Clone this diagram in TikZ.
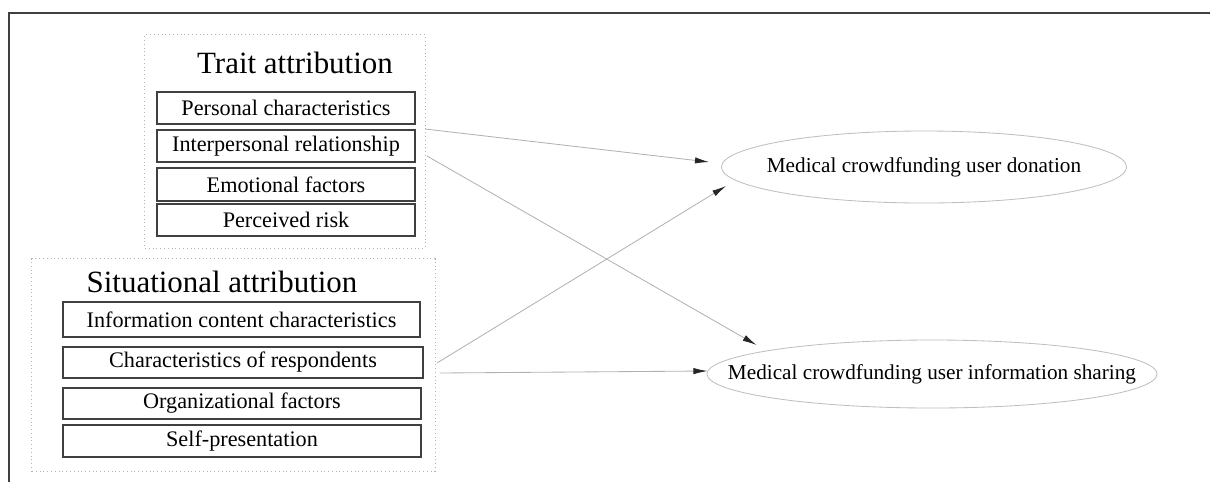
\documentclass[tikz,border=0pt]{standalone}
\usepackage{fontspec}
\setmainfont{Liberation Serif}
\usetikzlibrary{positioning, arrows.meta, shapes}

\begin{document}
\begin{tikzpicture}[x=0.025cm, y=-0.025cm,
    factor/.style={rectangle, draw=black!75, line width=1.1pt, inner sep=0pt, font=\fontsize{15.8}{18}\selectfont},
    cluster/.style={rectangle, draw=black!30, dotted, line width=0.7pt, inner sep=0pt},
    heading/.style={inner sep=0pt, font=\fontsize{22}{26}\selectfont},
    outcome/.style={ellipse, draw=black!25, line width=0.6pt, inner sep=0pt},
    link/.style={draw=black!30, line width=0.6pt, -{Latex[length=10pt, width=4.5pt, color=black!85]}}]
            \useasboundingbox (0,0) rectangle (1210,482);
            \draw[black!75, line width=1pt] (1210,13) -- (9,13) -- (9,482);

            \node[cluster, minimum width=7cm, minimum height=5.325cm] (trait) at (285, 141.5) {};
            \node[cluster, minimum width=10.075cm, minimum height=5.3cm] (situ) at (233.5, 365) {};

            \node[heading] (traittitle) at (295, 63) {Trait attribution};
            \node[heading] (situtitle) at (222, 282) {Situational attribution};

            \node[factor, minimum width=6.45cm, minimum height=0.8cm] (personal) at (286, 108) {Personal characteristics};
            \node[factor, minimum width=6.45cm, minimum height=0.8cm] (interpersonal) at (286, 146) {Interpersonal relationship};
            \node[factor, minimum width=6.45cm, minimum height=0.825cm] (emotional) at (286, 184.5) {Emotional factors};
            \node[factor, minimum width=6.45cm, minimum height=0.8cm] (risk) at (286, 220) {Perceived risk};

            \node[factor, minimum width=8.925cm, minimum height=0.875cm] (content) at (241.5, 319.5) {Information content characteristics};
            \node[factor, minimum width=9cm, minimum height=0.775cm] (respondents) at (243, 362.5) {Characteristics of respondents};
            \node[factor, minimum width=8.95cm, minimum height=0.775cm] (organizational) at (242, 403.5) {Organizational factors};
            \node[factor, minimum width=8.95cm, minimum height=0.8cm] (selfpres) at (242, 441) {Self-presentation};

            \node[outcome, minimum width=10.125cm, minimum height=1.8cm,
                label={[font=\fontsize{15.1}{18}\selectfont]center:Medical crowdfunding user donation}] (donation) at (924, 167) {};
            \node[outcome, minimum width=11.25cm, minimum height=1.7cm,
                label={[font=\fontsize{15.1}{18}\selectfont]center:Medical crowdfunding user information sharing}] (sharing) at (932, 374) {};

            \coordinate (t1) at (425, 129);
            \coordinate (t2) at (427, 156);
            \coordinate (s1) at (437, 363);
            \coordinate (s2) at (440, 373);

            \draw[link] (t1) -- ([shift={(-12,-5)}]donation.west);
            \draw[link] (t2) -- ([shift={(50,-29)}]sharing.west);
            \draw[link] (s1) -- ([shift={(5,19)}]donation.west);
            \draw[link] (s2) -- ([shift={(1,-3)}]sharing.west);
        \end{tikzpicture}
\end{document}
